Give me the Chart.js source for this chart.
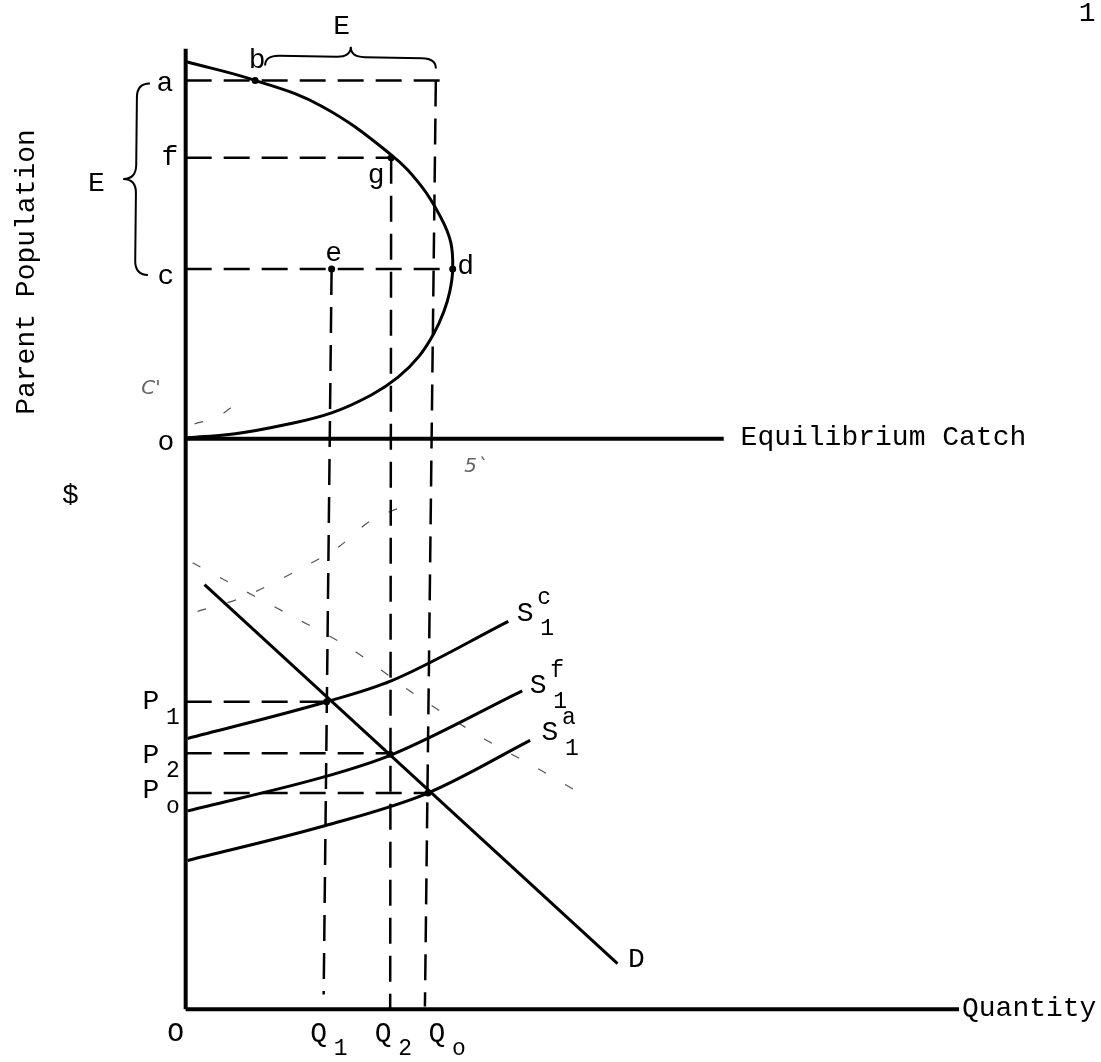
<!DOCTYPE html>
<html>
<head>
<meta charset="utf-8">
<title>Equilibrium catch and supply</title>
<script src="https://cdn.jsdelivr.net/npm/chart.js@4.4.1/dist/chart.umd.min.js"></script>
<style>
  html, body { margin: 0; padding: 0; background: #fff; }
  #wrap { position: relative; width: 1101px; height: 1062px; }
</style>
</head>
<body>
<div id="wrap"><canvas id="fishChart"></canvas></div>
<script>
// Units: x = quantity measured from the price axis, y = height above the Quantity axis.
// Upper panel (parent population) sits on the "Equilibrium Catch" axis at y = 575.

// yield curve (parent population vs equilibrium catch), from the top of the axis round to o
const yieldCurve = [
    [0, 955], [70, 936], [137, 910], [207, 861], [237, 830], [257, 798], [267, 773],
    [269, 746], [266, 723], [260, 703], [250, 681], [235, 658], [214, 637],
    [187, 619], [147, 601], [100, 589], [50, 580], [2, 576]
];

// demand and the three supply curves (lower panel)
const demand = [[19, 428], [435, 46]];
const supplyC = [[2, 273], [142, 310], [207, 331], [325, 391]];
const supplyF = [[2, 200], [142, 235], [206, 256], [339, 321]];
const supplyA = [[2, 150], [140, 185], [244, 218], [347, 271]];

// axes
const priceAxis = [[0, 0], [0, 968]];
const catchAxis = [[0, 575], [542, 575]];
const quantityAxis = [[0, 0], [779, 0]];

// dashed guide lines
const guideLines = [
    [[0, 936], [257, 936]],   // a
    [[0, 858], [207, 858]],   // f
    [[0, 746], [269, 746]],   // c
    [[147, 746], [139, 15]],  // Q1 from e
    [[207, 858], [206, 0]],   // Q2 from g
    [[252, 936], [241, 3]],   // Qo from a
    [[0, 310], [142, 310]],   // P1
    [[0, 258], [206, 258]],   // P2
    [[0, 218], [244, 218]]    // Po
];

// marked points: b, g, e, d and the three equilibria
const markedPoints = [[70, 936], [207, 858], [147, 746], [269, 746], [142, 310], [206, 257], [244, 218]];

// faint pencil marks on the original
const pencilMarks = [
    [[12, 401], [57, 415], [114, 443], [154, 466], [187, 493], [217, 506]],
    [[7, 450], [57, 423], [100, 400], [164, 365], [230, 318], [295, 276], [354, 243], [397, 218]],
    [[9, 590], [32, 597], [57, 615]]
];

// curly braces: start, end, tip
const braces = [
    { a: [80, 951], b: [252, 948], tip: [157, 970] },
    { a: [-36, 933], b: [-38, 740], tip: [-63, 831] }
];

// text labels
const labels = [
    { t: 'E', x: 157, y: 990 },
    { t: 'E', x: -90, y: 832 },
    { t: 'a', x: -21, y: 933 },
    { t: 'f', x: -16, y: 858 },
    { t: 'c', x: -20, y: 738 },
    { t: 'o', x: -20, y: 571 },
    { t: 'b', x: 72, y: 956 },
    { t: 'g', x: 192, y: 840 },
    { t: 'e', x: 149, y: 762 },
    { t: 'd', x: 282, y: 748 },
    { t: 'Equilibrium Catch', x: 559, y: 576, align: 'left' },
    { t: '$', x: -116, y: 518 },
    { t: 'P', x: -35, y: 310, sub: '1' },
    { t: 'P', x: -35, y: 256, sub: '2' },
    { t: 'P', x: -35, y: 220, sub: 'o' },
    { t: 'S', x: 342, y: 399, sub: '1', sup: 'c' },
    { t: 'S', x: 355, y: 326, sub: '1', sup: 'f' },
    { t: 'S', x: 367, y: 279, sub: '1', sup: 'a' },
    { t: 'D', x: 454, y: 50 },
    { t: 'O', x: -10, y: -24 },
    { t: 'Q', x: 134, y: -24, sub: '1' },
    { t: 'Q', x: 199, y: -24, sub: '2' },
    { t: 'Q', x: 253, y: -24, sub: 'o' },
    { t: 'Quantity', x: 782, y: 1, align: 'left' },
    { t: '1', x: 908, y: 1003 }
];
const pencilText = [
    { t: "C'", x: -35, y: 625 },
    { t: '5`', x: 292, y: 547 }
];
const yTitle = { t: 'Parent Population', x: -160, y: 743 };

const FONT = '"Liberation Mono", "DejaVu Sans Mono", monospace';

function pts(arr) {
    return arr.map(p => ({ x: p[0], y: p[1] }));
}

function lineSet(arr, width, extra) {
    return Object.assign({
        data: pts(arr),
        showLine: true,
        borderColor: '#000',
        borderWidth: width,
        pointRadius: 0,
        tension: 0,
        fill: false
    }, extra || {});
}

const datasets = [
    lineSet(priceAxis, 4),
    lineSet(catchAxis, 4),
    lineSet(quantityAxis, 4),
    lineSet(yieldCurve, 3, { tension: 0.4 }),
    lineSet(demand, 3),
    lineSet(supplyC, 3, { cubicInterpolationMode: 'monotone' }),
    lineSet(supplyF, 3, { cubicInterpolationMode: 'monotone' }),
    lineSet(supplyA, 3, { cubicInterpolationMode: 'monotone' })
];
guideLines.forEach(g => datasets.push(lineSet(g, 2.5, { borderDash: [26, 12] })));
pencilMarks.forEach(m => datasets.push(lineSet(m, 1.2, {
    borderColor: '#555', borderDash: [9, 22], tension: 0.3
})));
datasets.push({
    data: pts(markedPoints),
    showLine: false,
    pointRadius: 3.5,
    pointBackgroundColor: '#000',
    pointBorderWidth: 0
});

// draws a curly brace from a to b, bulging towards tip
function drawBrace(ctx, a, b, tip) {
    const dx = b.x - a.x, dy = b.y - a.y;
    const len = Math.hypot(dx, dy);
    const ux = dx / len, uy = dy / len;
    const mx = (a.x + b.x) / 2, my = (a.y + b.y) / 2;
    const nx = -uy, ny = ux;
    const d = (tip.x - mx) * nx + (tip.y - my) * ny;
    const h = d / 2, r = 14;
    const P = (s, t) => [a.x + ux * s + nx * t, a.y + uy * s + ny * t];
    ctx.beginPath();
    ctx.moveTo(...P(0, 0));
    ctx.quadraticCurveTo(...P(0, h), ...P(r, h));
    ctx.lineTo(...P(len / 2 - r, h));
    ctx.quadraticCurveTo(...P(len / 2, h), ...P(len / 2, d));
    ctx.quadraticCurveTo(...P(len / 2, h), ...P(len / 2 + r, h));
    ctx.lineTo(...P(len - r, h));
    ctx.quadraticCurveTo(...P(len, h), ...P(len, 0));
    ctx.stroke();
}

const textPlugin = {
    id: 'diagramText',
    afterDatasetsDraw(chart) {
        const ctx = chart.ctx;
        const sx = chart.scales.x, sy = chart.scales.y;
        const px = v => sx.getPixelForValue(v);
        const py = v => sy.getPixelForValue(v);
        ctx.save();
        ctx.strokeStyle = '#000';
        ctx.lineWidth = 2;
        braces.forEach(br => {
            drawBrace(ctx,
                { x: px(br.a[0]), y: py(br.a[1]) },
                { x: px(br.b[0]), y: py(br.b[1]) },
                { x: px(br.tip[0]), y: py(br.tip[1]) });
        });

        ctx.fillStyle = '#000';
        ctx.textBaseline = 'middle';
        labels.forEach(l => {
            const x = px(l.x), y = py(l.y);
            ctx.font = '28px ' + FONT;
            ctx.textAlign = l.align || 'center';
            ctx.fillText(l.t, x, y);
            ctx.font = '23px ' + FONT;
            ctx.textAlign = 'center';
            if (l.sub) ctx.fillText(l.sub, x + 22, y + 16);
            if (l.sup) ctx.fillText(l.sup, x + 19, y - 15);
        });

        ctx.fillStyle = '#666';
        ctx.font = 'italic 20px "DejaVu Sans", sans-serif';
        ctx.textAlign = 'center';
        pencilText.forEach(l => ctx.fillText(l.t, px(l.x), py(l.y)));

        ctx.fillStyle = '#000';
        ctx.font = '28px ' + FONT;
        ctx.translate(px(yTitle.x), py(yTitle.y));
        ctx.rotate(-Math.PI / 2);
        ctx.fillText(yTitle.t, 0, 0);
        ctx.restore();
    }
};

new Chart(document.getElementById('fishChart').getContext('2d'), {
    type: 'scatter',
    data: { datasets: datasets },
    options: {
        responsive: true,
        maintainAspectRatio: false,
        animation: false,
        layout: { padding: 0 },
        plugins: {
            legend: { display: false },
            tooltip: { enabled: false }
        },
        scales: {
            x: { type: 'linear', display: false, min: -183, max: 918 },
            y: { type: 'linear', display: false, min: -49, max: 1013 }
        }
    },
    plugins: [textPlugin]
});
</script>
</body>
</html>
